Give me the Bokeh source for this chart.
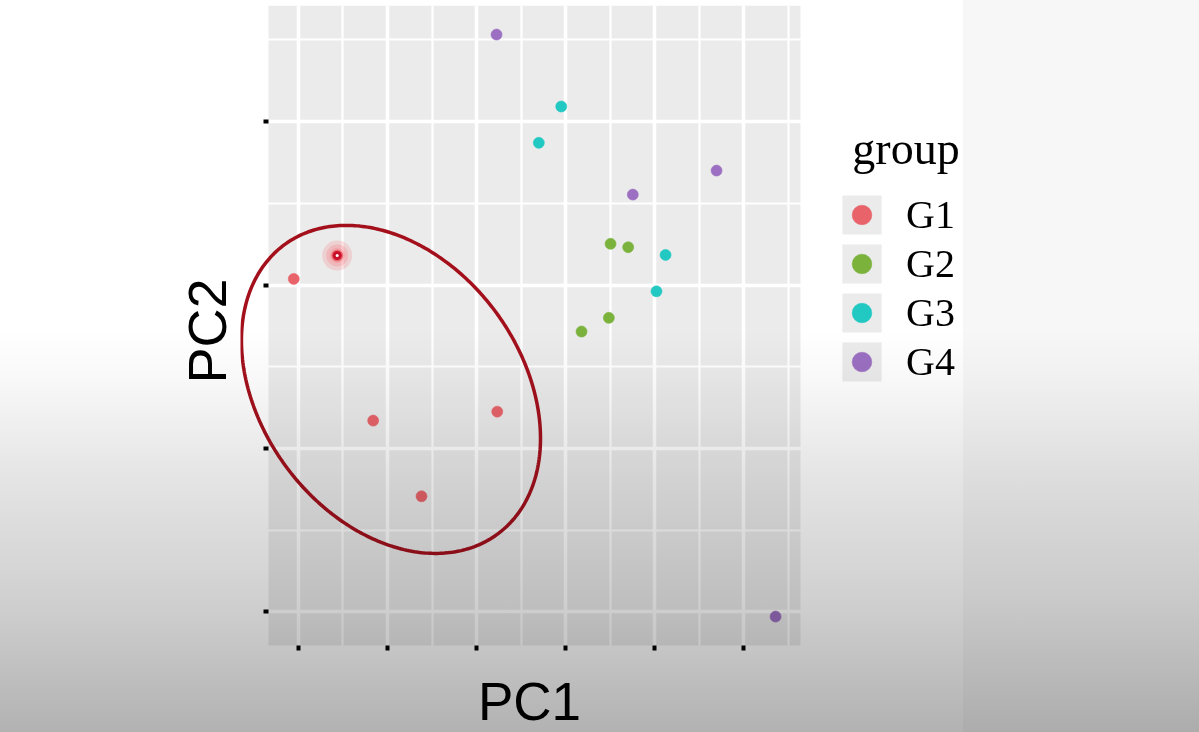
import numpy as np
from bokeh.plotting import figure
from bokeh.models import (FixedTicker, Legend, LegendItem, InlineStyleSheet,
                          Range1d, Title, Label)
from bokeh.embed import file_html
from bokeh.resources import INLINE

# ---------------- data ----------------
GROUPS = ["G1", "G2", "G3", "G4"]
COLORS = ["#E8646A", "#7AB23C", "#22C8C2", "#9C6FC2"]

G1_PC1 = [-20.53, -15.65, -11.61, 2.33, -6.18]
G1_PC2 = [10.38, 11.81, 1.71, 2.26, -2.92]
G2_PC1 = [15.06, 17.04, 14.87, 11.80]
G2_PC2 = [12.53, 12.32, 8.00, 7.16]
G3_PC1 = [21.24, 20.22, 9.52, 7.00]
G3_PC2 = [11.85, 9.62, 20.93, 18.71]
G4_PC1 = [2.25, 17.56, 26.97, 33.60]
G4_PC2 = [25.33, 15.54, 17.01, -10.28]

X_TICKS = [-20, -10, 0, 10, 20, 30]
Y_TICKS = [-10, 0, 10, 20]
PANEL_X = (-23.37, 36.40)   # limits of the grey plotting panel
PANEL_Y = (-12.05, 27.11)

# ellipse drawn around G1 (centre and shape matrix, data units)
ELLIPSE_CENTER = [-9.61, 3.62]
ELLIPSE_SHAPE = [[282.2, -50.3], [-50.3, 100.7]]
HIGHLIGHT_INDEX = 1  # highlighted G1 sample

PC1 = [G1_PC1, G2_PC1, G3_PC1, G4_PC1]
PC2 = [G1_PC2, G2_PC2, G3_PC2, G4_PC2]

# ---------------- layout (pixels) ----------------
W, H = 1199, 732
FRAME_L, PANEL_L, PANEL_R, FRAME_R = 240, 268, 800, 1010
PANEL_T, PANEL_B = 5, 645
PC1_ANCHOR = 701

ux = (PANEL_X[1] - PANEL_X[0]) / (PANEL_R - PANEL_L)
uy = (PANEL_Y[1] - PANEL_Y[0]) / (PANEL_B - PANEL_T)
x_range = Range1d(PANEL_X[0] - (PANEL_L - FRAME_L) * ux,
                  PANEL_X[1] + (FRAME_R - PANEL_R) * ux)
y_range = Range1d(PANEL_Y[0] - (H - PANEL_B) * uy, PANEL_Y[1])

p = figure(width=W, height=H, output_backend="svg", toolbar_location=None,
           x_range=x_range, y_range=y_range, x_axis_location="above",
           min_border_left=FRAME_L, min_border_right=W - FRAME_R,
           min_border_top=PANEL_T, min_border_bottom=0)
p.background_fill_color = "white"
p.border_fill_color = "white"
p.outline_line_color = None

# grey panel
panel = p.quad(left=[PANEL_X[0]], right=[PANEL_X[1]], bottom=[PANEL_Y[0]], top=[PANEL_Y[1]],
               fill_color="#EBEBEB", line_color=None, level="image")

def minor_of(ticks, lim):
    step = ticks[1] - ticks[0]
    cand = [t - step / 2 for t in ticks] + [ticks[-1] + step / 2]
    return [c for c in cand if lim[0] < c < lim[1]]

p.xaxis.ticker = FixedTicker(ticks=X_TICKS, minor_ticks=minor_of(X_TICKS, PANEL_X))
p.yaxis.ticker = FixedTicker(ticks=Y_TICKS, minor_ticks=minor_of(Y_TICKS, PANEL_Y))

for g in (p.xgrid, p.ygrid):
    g.grid_line_color = "white"
    g.grid_line_width = 3.5
    g.minor_grid_line_color = "white"
    g.minor_grid_line_width = 2.2
p.xgrid.bounds = PANEL_Y
p.ygrid.bounds = PANEL_X

for ax, ticks in ((p.xaxis, X_TICKS), (p.yaxis, Y_TICKS)):
    ax.axis_line_color = None
    ax.major_tick_line_width = 4
    ax.major_tick_line_color = "black"
    ax.minor_tick_line_color = None
    ax.major_label_overrides = {t: "" for t in ticks}
    ax.major_label_standoff = 0
    ax.major_label_text_font_size = "1px"

# x ticks hang below the panel's bottom edge, y ticks left of its left edge
p.xaxis.fixed_location = PANEL_Y[0]
p.xaxis.major_tick_out = 0
p.xaxis.major_tick_in = 5
p.yaxis.fixed_location = PANEL_X[0]
p.yaxis.major_tick_out = 5
p.yaxis.major_tick_in = 0

# axis titles
p.add_layout(Label(x=(PANEL_X[0] + PANEL_X[1]) / 2, x_offset=-5,
                   y=PANEL_Y[0] - (PC1_ANCHOR - PANEL_B) * uy,
                   text="PC1", text_align="center", text_baseline="alphabetic",
                   text_font="Liberation Sans", text_font_size="53px",
                   text_color="black"))
p.add_layout(Title(text="PC2", align="left", offset=H - 383, standoff=7,
                   text_font="Liberation Sans", text_font_size="54px",
                   text_font_style="normal", text_color="black"), "left")

# highlight glow under the selected G1 sample
hx, hy = G1_PC1[HIGHLIGHT_INDEX], G1_PC2[HIGHLIGHT_INDEX]
p.scatter([hx] * 3, [hy] * 3, size=[30, 22, 15], fill_color="#FF2030",
          fill_alpha=0.13, line_color=None)

renderers = []
for name, col, xs, ys in zip(GROUPS, COLORS, PC1, PC2):
    r = p.scatter(xs, ys, size=11, fill_color=col, line_color=col, line_alpha=0.6)
    renderers.append(r)

p.scatter([hx], [hy], size=9, fill_color="#C8102A", line_color=None)
p.scatter([hx], [hy], size=3, fill_color="white", line_color=None)

# ellipse outline around G1
t = np.linspace(0, 2 * np.pi, 361)
L = np.linalg.cholesky(np.array(ELLIPSE_SHAPE))
pts = L @ np.vstack([np.cos(t), np.sin(t)])
p.line(ELLIPSE_CENTER[0] + pts[0], ELLIPSE_CENTER[1] + pts[1],
       line_color="#A3101C", line_width=3.5)

# legend: grey key (panel colour) behind each dot, right of the panel
items = [LegendItem(label=n, renderers=[panel, r]) for n, r in zip(GROUPS, renderers)]
legend = Legend(items=items, title="\u2004group",
                location=(837 - FRAME_L, 259 + (H - PANEL_B)),
                title_text_font="Liberation Serif", title_text_font_size="46px",
                title_text_font_style="normal", title_text_color="black",
                title_standoff=15,
                label_text_font="Liberation Serif", label_text_font_size="40px",
                label_text_color="black",
                glyph_width=49, glyph_height=49, label_height=49,
                label_standoff=20, spacing=0, padding=0, margin=0,
                border_line_color=None, background_fill_alpha=0)
p.add_layout(legend)

# video-frame shading of the reference screenshot (multiplied over the page)
p.stylesheets = [InlineStyleSheet(css="""
:host { position: relative; }
:host::after { content: ""; position: absolute; left: 0; top: 0; width: 100%; height: 100%;
  pointer-events: none; z-index: 50; mix-blend-mode: multiply;
  background: linear-gradient(to bottom, rgb(255,255,255) 330px, rgb(248,248,248) 380px,
                              rgb(228,228,228) 480px, rgb(208,208,208) 600px,
                              rgb(178,178,178) 732px),
              linear-gradient(to right, rgb(255,255,255) 963px, rgb(247,247,247) 963px);
  background-blend-mode: multiply; }
""")]

open("out.html", "w").write(file_html(p, INLINE))
